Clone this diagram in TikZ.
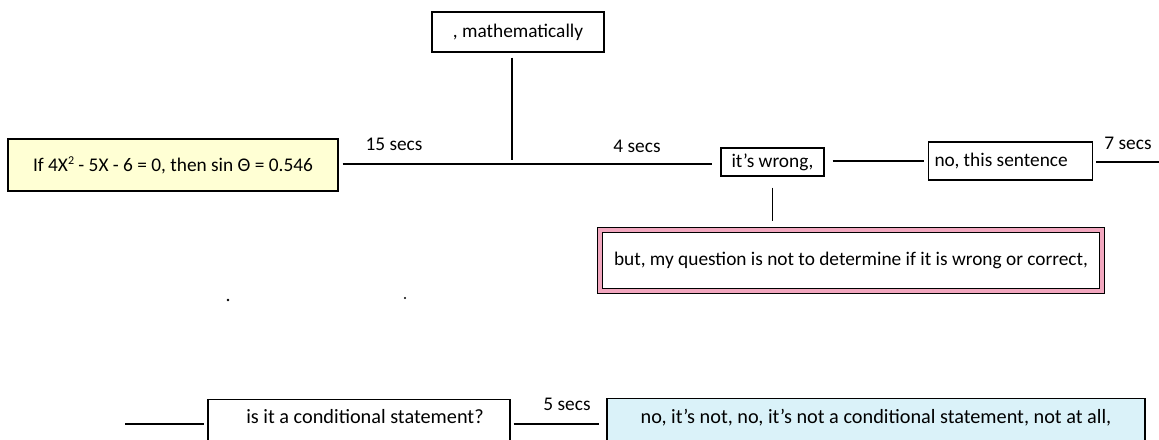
\documentclass[tikz,border=0pt]{standalone}
\usepackage{fontspec}
\setmainfont{Carlito}
\frenchspacing
\def\pxu{0.75pt}
\definecolor{paleyellow}{HTML}{FFFFD4}
\definecolor{palepink}{HTML}{F2A7BF}
\definecolor{paleblue}{HTML}{DAF2F9}
\tikzset{
  box/.style={draw=black, line width=0.9pt, fill=white, inner sep=0pt,
    font=\fontsize{14.5}{16}\selectfont},
  lowbox/.style={box, font=\fontsize{15.2}{17}\selectfont},
  timelabel/.style={inner sep=0pt, font=\fontsize{14.5}{16}\selectfont},
  link/.style={draw=black, line width=0.9pt},
}
\begin{document}
\begin{tikzpicture}[x=\pxu, y=-\pxu]
\useasboundingbox (0,0) rectangle (1159,439);
\clip (0,0) rectangle (1159,439);

% statement boxes of the first row
\node[box, fill=paleyellow, text width=308*\pxu, inner xsep=11*\pxu, align=flush center,
  minimum height=52*\pxu] (cond) at (173,165)
  {If 4X\raisebox{0.75ex}{\fontsize{9}{9}\selectfont 2} - 5X - 6 = 0, then sin Θ = 0.546\hspace*{7.5pt}};
\node[box, minimum width=172*\pxu, minimum height=40*\pxu]
  (math) at (518,32) {, mathematically};
\node[box, minimum width=103*\pxu, minimum height=28*\pxu]
  (wrong) at (772.5,162) {it’s wrong,};
\node[box, text width=152*\pxu, inner xsep=6*\pxu, align=flush left,
  minimum height=38*\pxu] (sentence) at (1010.5,161) {no, this sentence};

% double-framed box below
\node[box, draw=black, line width=0.8pt, double=palepink, double distance=4.5*\pxu,
  minimum width=502*\pxu, minimum height=61*\pxu]
  (question) at (851,260.5) {but, my question is not to determine if it is wrong or correct,};

% second row, cut at the lower edge
\node[lowbox, text width=302*\pxu, align=flush center, text height=24*\pxu, text depth=30*\pxu,
  anchor=north] (ask) at (359,399) {\hspace*{9pt}is it a conditional statement?};
\node[lowbox, fill=paleblue, text width=538*\pxu, align=flush center, text height=25*\pxu,
  text depth=30*\pxu, anchor=north] (answer) at (876,398)
  {no, it’s not, no, it’s not a conditional statement, not at all,};

% free line ends
\coordinate (join) at (512,164);
\coordinate (rightend) at (1159,162);
\coordinate (leftend) at (125,424);

% connectors
\draw[link] ([xshift=4*\pxu]cond.east |- join) -- ([xshift=-8*\pxu]wrong.west |- join);
\draw[link, shorten <=5*\pxu, shorten >=4*\pxu] (math.south -| join) -- (join);
\draw[link, shorten <=8*\pxu, shorten >=4*\pxu] (wrong.east |- sentence.center) -- (sentence.west);
\draw[link, shorten <=3*\pxu] (sentence.east |- rightend) -- (rightend);
\draw[link, shorten <=11*\pxu, shorten >=8*\pxu] (wrong.south) -- (wrong.south |- question.north);
\draw[link, shorten >=3*\pxu] (leftend) -- (ask.west |- leftend);
\draw[link, shorten <=3*\pxu, shorten >=7*\pxu] (ask.east |- leftend) -- (answer.west |- leftend);

% timing labels
\node[timelabel] (t15) at (394,144) {15 secs};
\node[timelabel] (t4) at (637,146) {4 secs};
\node[timelabel] (t7) at (1128,143) {7 secs};
\node[timelabel] (t5) at (567,404) {5 secs};

% stray dots
\fill (228,300) circle (1.4);
\fill (405,298) circle (1.2);
\end{tikzpicture}
\end{document}
